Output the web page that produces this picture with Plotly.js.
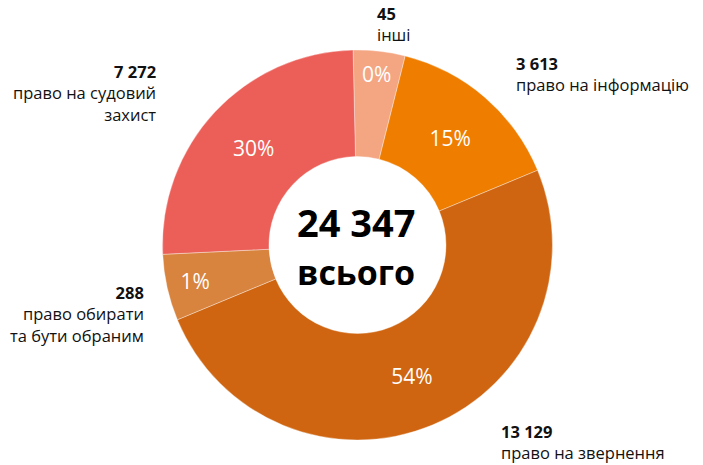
<!DOCTYPE html>
<html>
<head>
<meta charset="utf-8">
<script src="https://cdn.plot.ly/plotly-3.0.1.min.js"></script>
<style>html,body{margin:0;padding:0;background:#fff;}#chart{width:703px;height:465px;}</style>
</head>
<body>
<div id="chart"></div>
<script>
// Categories in clockwise order, starting at 12 o'clock
var categories = ['інші', 'право на інформацію', 'право на звернення', 'право обирати<br>та бути обраним', 'право на судовий<br>захист'];
// Counts shown in the labels
var counts = ['45', '3 613', '13 129', '288', '7 272'];
// Percent labels printed in the slices
var pctLabels = ['0%', '15%', '54%', '1%', '30%'];
// Slice shares as drawn in the picture (the infographic does not draw slices to scale)
var sliceShares = [4.3, 14.8, 50.0, 5.5, 25.4];
var totalLabel = '24 347';
var totalWord = 'всього';
var colors = ['#F4A582', '#EF7D00', '#CF6510', '#D8833E', '#EB5F58'];

var FONT = 'Open Sans, Noto Sans, sans-serif';

var trace = {
  type: 'pie',
  values: sliceShares,
  labels: categories,
  text: pctLabels,
  textinfo: 'text',
  textposition: 'inside',
  insidetextorientation: 'horizontal',
  insidetextfont: {family: FONT, size: 21, color: '#ffffff'},
  sort: false,
  direction: 'clockwise',
  rotation: -1.3,
  hole: 0.454,
  marker: {colors: colors, line: {color: 'rgba(255,255,255,0.6)', width: 0.6}},
  domain: {x: [0.2, 0.817], y: [25/465, 415/465]},
  showlegend: false,
  hoverinfo: 'none'
};

function px(x) { return x / 703; }
function py(y) { return (465 - y) / 465; }

function lbl(i) {
  return '<b>' + counts[i] + '</b><br>' + categories[i];
}

var labelFont = {family: FONT, size: 16.5, color: '#111111'};
var annotations = [
  {text: lbl(0), x: px(375), y: py(24), xanchor: 'left', align: 'left'},
  {text: lbl(1), x: px(514), y: py(74.5), xanchor: 'left', align: 'left'},
  {text: lbl(2), x: px(499), y: py(441.5), xanchor: 'left', align: 'left'},
  {text: lbl(3), x: px(146), y: py(314), xanchor: 'right', align: 'right'},
  {text: lbl(4), x: px(158), y: py(92.5), xanchor: 'right', align: 'right'},
  {text: '<b>' + totalLabel + '</b>', x: px(357), y: py(222), xanchor: 'center', font: {family: FONT, size: 38, color: '#000'}},
  {text: '<b>' + totalWord + '</b>', x: px(356), y: py(272), xanchor: 'center', font: {family: FONT, size: 34, color: '#000'}}
].map(function (a) {
  return Object.assign({xref: 'paper', yref: 'paper', yanchor: 'middle', showarrow: false, font: labelFont}, a);
});

var layout = {
  width: 703,
  height: 465,
  margin: {l: 0, r: 0, t: 0, b: 0},
  paper_bgcolor: '#ffffff',
  showlegend: false,
  annotations: annotations
};

Plotly.newPlot('chart', [trace], layout, {displayModeBar: false, staticPlot: true});
</script>
</body>
</html>
